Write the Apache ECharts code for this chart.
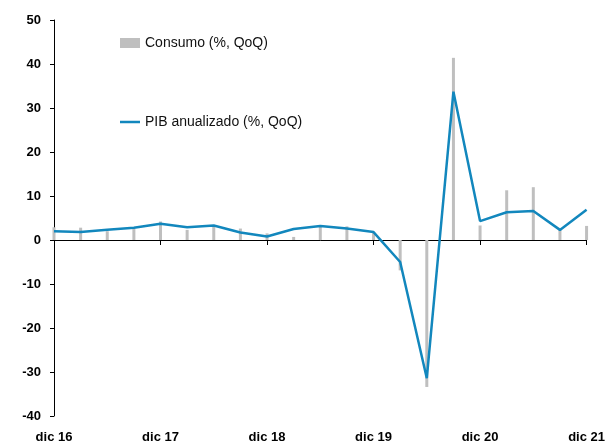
<!DOCTYPE html>
<html>
<head>
<meta charset="utf-8">
<script src="https://cdn.jsdelivr.net/npm/echarts@6/dist/echarts.min.js"></script>
<style>html,body{margin:0;padding:0;background:#fff}#c{width:608px;height:445px}</style>
</head>
<body>
<div id="c"></div>
<script>
const categories = ['dic 16','mar 17','jun 17','sep 17','dic 17','mar 18','jun 18','sep 18','dic 18','mar 19','jun 19','sep 19','dic 19','mar 20','jun 20','sep 20','dic 20','mar 21','jun 21','sep 21','dic 21'];
const consumo = [2.9, 2.8, 2.0, 2.6, 4.2, 2.3, 3.3, 2.6, 1.5, 0.7, 3.3, 3.1, 1.8, -6.9, -33.4, 41.4, 3.3, 11.3, 12.0, 2.3, 3.2];
const pib = [2.0, 1.8, 2.35, 2.8, 3.7, 2.9, 3.3, 1.7, 0.8, 2.5, 3.2, 2.6, 1.8, -5.0, -31.4, 33.7, 4.3, 6.3, 6.6, 2.3, 6.9];
const yMin = -40, yMax = 50, yStep = 10;
const nameConsumo = 'Consumo (%, QoQ)';
const namePib = 'PIB anualizado (%, QoQ)';

const chart = echarts.init(document.getElementById('c'), null, {renderer: 'canvas'});
const lblFont = {fontFamily: 'Liberation Sans', fontWeight: 'bold', fontSize: 13, color: '#000'};
const legText = {fontFamily: 'Liberation Sans', fontSize: 14, color: '#111'};
chart.setOption({
  animation: false,
  backgroundColor: '#fff',
  grid: {left: 54, right: 20, top: 20, bottom: 29, containLabel: false},
  legend: [
    {data: [{name: nameConsumo, icon: 'rect'}], left: 115, top: 31, itemWidth: 20, itemHeight: 10, itemGap: 0,
     textStyle: legText},
    {data: [{name: namePib, icon: 'rect'}], left: 115, top: 110, itemWidth: 20, itemHeight: 2.5, itemGap: 0,
     textStyle: legText}
  ],
  xAxis: [
    {type: 'category', data: categories, boundaryGap: false,
     axisLine: {onZero: true, lineStyle: {color: '#000', width: 1}},
     axisTick: {show: true, interval: 3, length: 5, lineStyle: {color: '#000'}},
     axisLabel: {show: false}, splitLine: {show: false}},
    {type: 'category', data: categories, boundaryGap: false, position: 'bottom', offset: 0,
     axisLine: {show: false}, axisTick: {show: false},
     axisLabel: Object.assign({interval: 3, margin: 15, hideOverlap: false}, lblFont), splitLine: {show: false}}
  ],
  yAxis: {type: 'value', min: yMin, max: yMax, interval: yStep,
    axisLine: {show: true, lineStyle: {color: '#000', width: 1}},
    axisTick: {show: true, length: 4, lineStyle: {color: '#000'}},
    axisLabel: Object.assign({margin: 13}, lblFont),
    splitLine: {show: false}},
  series: [
    {name: nameConsumo, type: 'bar', data: consumo, barWidth: 3, xAxisIndex: 0,
     itemStyle: {color: '#bfbfbf'}},
    {name: namePib, type: 'line', data: pib, xAxisIndex: 0, symbol: 'none',
     lineStyle: {color: '#1287bd', width: 2.5}, itemStyle: {color: '#1287bd'}}
  ]
});
</script>
</body>
</html>
